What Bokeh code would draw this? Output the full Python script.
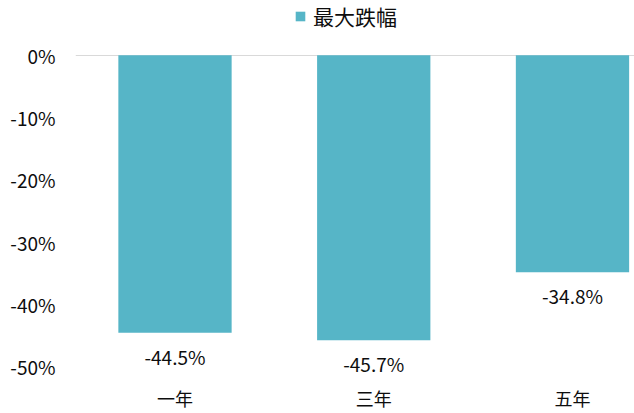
from bokeh.plotting import figure
from bokeh.models import (Range1d, FixedTicker, PrintfTickFormatter, ColumnDataSource,
                          LabelSet, Legend, LegendItem)
from bokeh.core.properties import value
from bokeh.embed import file_html
from bokeh.resources import INLINE

categories = ["一年", "三年", "五年"]
drawdown = [-44.5, -45.7, -34.8]
value_labels = ["-44.5%", "-45.7%", "-34.8%"]
y_ticks = [0, -10, -20, -30, -40, -50]
series_name = "最大跌幅"

FONT = "Noto Sans CJK SC"
BAR = "#56b5c7"
TXT = "#0d0d0d"

xs = list(range(len(categories)))
src = ColumnDataSource(dict(x=xs, top=drawdown, lab=value_labels))

# y range extends above 0 to leave room for the legend inside the plot frame
p = figure(width=634, height=413, output_backend="svg", toolbar_location=None,
           x_range=Range1d(-0.5006, 2.312), y_range=Range1d(-51.69, 8.76),
           min_border_left=75, min_border_right=0, min_border_bottom=33, min_border_top=0)
p.outline_line_color = None
p.background_fill_color = "white"
p.border_fill_color = "white"

r = p.vbar(x="x", top="top", bottom=0, width=0.57, source=src,
           fill_color=BAR, line_color=None)

labels = LabelSet(x="x", y="top", text="lab", source=src, text_align="center",
                  text_baseline="top", y_offset=-10, text_font=value(FONT),
                  text_font_size=value("19px"), text_color=TXT)
p.add_layout(labels)

# axes
p.xaxis.ticker = FixedTicker(ticks=xs)
p.xaxis.major_label_overrides = {i: c for i, c in enumerate(categories)}
p.xaxis.axis_line_color = None
p.xaxis.major_tick_line_color = None
p.xaxis.minor_tick_line_color = None
p.xaxis.major_tick_out = 0
p.xaxis.major_tick_in = 0
p.xaxis.major_label_text_font = FONT
p.xaxis.major_label_text_font_size = "18px"
p.xaxis.major_label_text_color = TXT
p.xaxis.major_label_standoff = 7

p.yaxis.ticker = FixedTicker(ticks=y_ticks)
p.yaxis.formatter = PrintfTickFormatter(format="%d%%")
p.yaxis.axis_line_color = None
p.yaxis.major_tick_line_color = None
p.yaxis.minor_tick_line_color = None
p.yaxis.major_tick_out = 0
p.yaxis.major_tick_in = 0
p.yaxis.major_label_text_font = FONT
p.yaxis.major_label_text_font_size = "19px"
p.yaxis.major_label_text_color = TXT
p.yaxis.major_label_standoff = 20

p.xgrid.grid_line_color = None
p.ygrid.ticker = FixedTicker(ticks=[0])
p.ygrid.grid_line_color = "#d9d9d9"
p.ygrid.grid_line_width = 1

legend = Legend(items=[LegendItem(label=series_name, renderers=[r])],
                location=(219, 346), orientation="horizontal",
                label_text_font=FONT, label_text_font_size="21px",
                label_text_color=TXT, glyph_width=12, glyph_height=12,
                label_standoff=7, padding=2, margin=0, spacing=0,
                border_line_color=None, background_fill_alpha=0)
p.add_layout(legend)

html = file_html(p, INLINE)
open("out.html", "w").write(html)
